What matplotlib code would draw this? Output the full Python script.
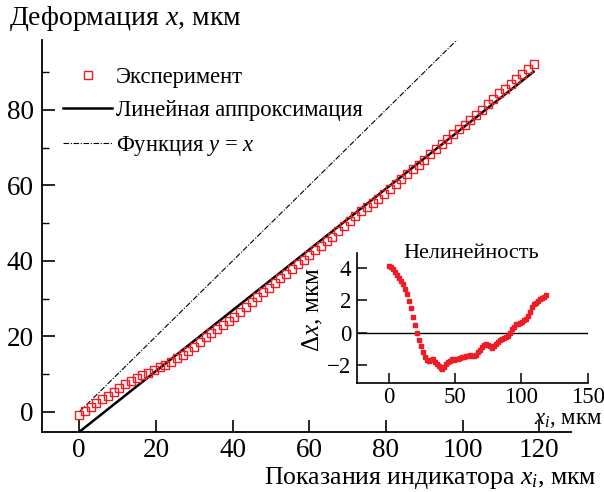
import matplotlib
matplotlib.use("Agg")
import matplotlib.pyplot as plt
from matplotlib.ticker import MultipleLocator

plt.rcParams['font.family'] = ['Liberation Serif', 'DejaVu Serif']
plt.rcParams['mathtext.fontset'] = 'custom'
plt.rcParams['mathtext.rm'] = 'Liberation Serif'
plt.rcParams['mathtext.it'] = 'Liberation Serif:italic'

# ---- data ----
x_ind = [0, 1.5, 3, 4.5, 6, 7.5, 9, 10.5, 12, 13.5, 15, 16.5, 18, 19.5, 21, 22.5,
         24, 25.5, 27, 28.5, 30, 31.5, 33, 34.5, 36, 37.5, 39, 40.5, 42, 43.5, 45,
         46.5, 48, 49.5, 51, 52.5, 54, 55.5, 57, 58.5, 60, 61.5, 63, 64.5, 66, 67.5,
         69, 70.5, 72, 73.5, 75, 76.5, 78, 79.5, 81, 82.5, 84, 85.5, 87, 88.5, 90,
         91.5, 93, 94.5, 96, 97.5, 99, 100.5, 102, 103.5, 105, 106.5, 108, 109.5,
         111, 112.5, 114, 115.5, 117, 118.5]

experiment = [-0.9, 0.25, 1.3, 2.3, 3.35, 4.35, 5.4, 6.4, 7.3, 8.15, 8.95, 9.7, 10.35,
              11.05, 11.8, 12.55, 13.35, 14.2, 15.1, 16.1, 17.25, 18.5, 19.75, 20.8,
              21.85, 22.95, 24.05, 25.15, 26.5, 27.9, 29.2, 30.45, 31.75, 32.9, 34.15,
              35.4, 36.65, 37.9, 39.1, 40.35, 41.55, 42.8, 43.95, 45.15, 46.45, 47.8,
              49.15, 50.5, 51.85, 53.1, 54.25, 55.35, 56.45, 57.75, 59.1, 60.45, 61.75,
              63.0, 64.25, 65.5, 66.8, 68.2, 69.6, 70.95, 72.3, 73.55, 74.8, 76.05,
              77.35, 78.65, 80.0, 81.45, 82.95, 84.35, 85.65, 86.95, 88.25, 89.55,
              90.8, 92.1]

nonlinearity = [4.1, 4.05, 3.9, 3.7, 3.55, 3.35, 3.2, 3.0, 2.7, 2.35, 1.95, 1.5, 0.95,
                0.45, 0.0, -0.45, -0.85, -1.2, -1.5, -1.7, -1.75, -1.7, -1.65, -1.8,
                -1.95, -2.05, -2.15, -2.25, -2.1, -1.9, -1.8, -1.75, -1.65, -1.7, -1.65,
                -1.6, -1.55, -1.5, -1.5, -1.45, -1.45, -1.4, -1.45, -1.45, -1.35, -1.2,
                -1.05, -0.9, -0.75, -0.7, -0.75, -0.85, -0.95, -0.85, -0.7, -0.55, -0.45,
                -0.4, -0.35, -0.3, -0.2, 0.0, 0.2, 0.35, 0.5, 0.55, 0.6, 0.65, 0.75,
                0.85, 1.0, 1.25, 1.55, 1.75, 1.85, 1.95, 2.05, 2.15, 2.2, 2.3]

fit_x = [0, 118.5]
fit_y = [-5.3, 90.1]
ident_x = [0, 100]
ident_y = [0, 100]

main_xticks = [0, 20, 40, 60, 80, 100, 120]
main_yticks = [0, 20, 40, 60, 80]
inset_xticks = [0, 50, 100, 150]
inset_yticks = [-2, 0, 2, 4]

RED = '#ee1c25'

fig = plt.figure(figsize=(6.04, 4.92), dpi=100)
ax = fig.add_axes([0.0695, 0.122, 0.8755, 0.7967])

ax.plot(x_ind, experiment, linestyle='none', marker='s', ms=5.5, mfc='none',
        mec=RED, mew=1.0, label='Эксперимент', zorder=3)
ax.plot(fit_x, fit_y, color='black', lw=1.8, label='Линейная аппроксимация', zorder=2)
ax.plot(ident_x, ident_y, color='black', lw=0.8, linestyle=(0, (5, 1.5, 1, 1.5)),
        label='Функция $y$ = $x$', zorder=2)

ax.set_xlim(-9.7, 128.2)
ax.set_ylim(-5.3, 98.5)
ax.set_xticks(main_xticks)
ax.set_yticks(main_yticks)
ax.yaxis.set_minor_locator(MultipleLocator(10))
for s in ['top', 'right']:
    ax.spines[s].set_visible(False)
for s in ['left', 'bottom']:
    ax.spines[s].set_linewidth(1.3)
ax.tick_params(which='major', direction='in', length=9, width=1.2, labelsize=19.5, pad=6)
ax.tick_params(which='minor', direction='in', length=5, width=1.0)
ax.tick_params(axis='x', pad=4)

leg = ax.legend(loc='upper left', bbox_to_anchor=(0.022, 0.955), frameon=False,
                fontsize=16.3, handlelength=2.2, handletextpad=0.15,
                labelspacing=0.55, borderaxespad=0)

fig.text(0.015, 0.963, 'Деформация $x$, мкм', fontsize=20, ha='left', va='center')
fig.text(0.988, 0.002, 'Показания индикатора $x_i$, мкм', fontsize=18.5,
         ha='right', va='bottom')

# ---- inset ----
ax2 = fig.add_axes([0.591, 0.2215, 0.382, 0.2645])
ax2.plot(x_ind, nonlinearity, linestyle='none', marker='s', ms=3.4, color=RED,
         mec=RED, zorder=3)
ax2.axhline(0, color='black', lw=1.0, zorder=2)
ax2.set_xlim(-24, 150)
ax2.set_ylim(-3.1, 4.9)
ax2.set_xticks(inset_xticks)
ax2.set_yticks(inset_yticks)
ax2.set_yticklabels(['\u22122', '0', '2', '4'])
for s in ['top', 'right']:
    ax2.spines[s].set_visible(False)
for s in ['left', 'bottom']:
    ax2.spines[s].set_linewidth(1.2)
ax2.tick_params(direction='in', length=7, width=1.1, labelsize=16.5, pad=4)
ax2.tick_params(axis='x', pad=3)
ax2.patch.set_alpha(0)

fig.text(471/604, 1 - 253/492, 'Нелинейность', fontsize=16, ha='center', va='center')
fig.text(313/604, 1 - 310/492, 'Δ$x$, мкм', fontsize=18, ha='center', va='center',
         rotation=90)
fig.text(0.998, 1 - 419/492, '$x_i$, мкм', fontsize=16.5, ha='right', va='center')

fig.savefig('out.png', dpi=100)
